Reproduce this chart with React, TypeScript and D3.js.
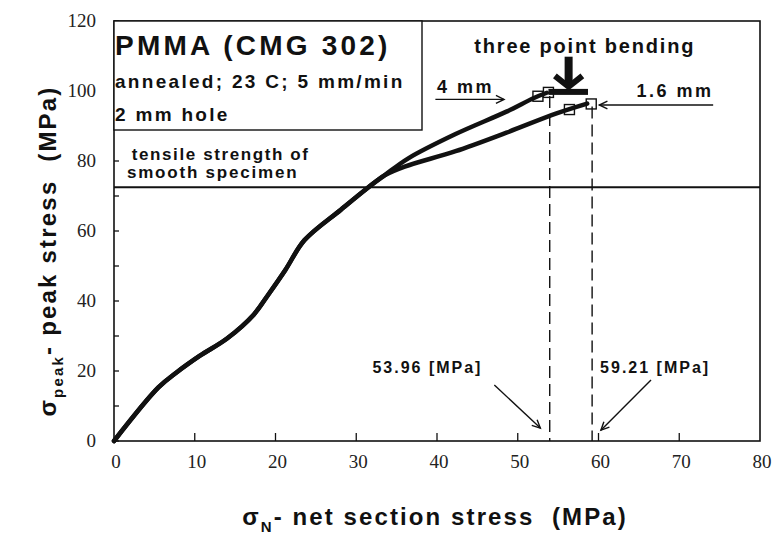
import React from "react";
import * as d3 from "d3";

// ---- data (MPa) ----
const sharedX = [0, 5.5, 7.7, 10.6, 14.0, 17.3, 19.1, 21.2, 23.6, 28.1, 31.4, 33.5];
const sharedY = [0, 15.3, 19.5, 24.3, 29.3, 36.1, 41.8, 48.8, 57.4, 66.1, 72.3, 75.9];
const upperX = [36.4, 42.3, 48.6, 52.0, 53.6];
const upperY = [80.7, 87.7, 94.1, 98.0, 99.5];
const lowerX = [36.0, 42.3, 48.6, 54.8, 58.6];
const lowerY = [78.4, 82.8, 88.1, 93.6, 96.4];
const markerX = [52.5, 53.8, 56.4, 59.1];
const markerY = [98.5, 99.6, 94.7, 96.3];
const dashX = [53.96, 59.21];
const dashTop = [98.6, 95.6];
const dashLabels = ["53.96 [MPa]", "59.21 [MPa]"];
const tensileStrength = 72.5;
const xTicks = [0, 10, 20, 30, 40, 50, 60, 70, 80];
const yTicks = [0, 10, 20, 30, 40, 50, 60, 70, 80, 90, 100, 110, 120];
const yTickLabels = [0, 20, 40, 60, 80, 100, 120];

const W = 774;
const H = 543;
const x = d3.scaleLinear().domain([0, 80]).range([114, 760]);
const y = d3.scaleLinear().domain([0, 120]).range([441, 21]);

const SANS = "'Liberation Sans', Arial, Helvetica, sans-serif";
const SERIF = "'Liberation Serif', 'Times New Roman', serif";

const zip = (xs: number[], ys: number[]) => xs.map((v, i) => [v, ys[i]] as [number, number]);
const line = d3
  .line<[number, number]>()
  .x((d) => x(d[0]))
  .y((d) => y(d[1]))
  .curve(d3.curveCatmullRom.alpha(0.5));

const upperPts = [...zip(sharedX, sharedY), ...zip(upperX, upperY)];
const lowerPts = [...zip(sharedX, sharedY), ...zip(lowerX, lowerY)];

function Arrow({ x1, y1, x2, y2, head = 9 }: { x1: number; y1: number; x2: number; y2: number; head?: number }) {
  const a = Math.atan2(y2 - y1, x2 - x1);
  const s = 0.45;
  const p1 = [x2 - head * Math.cos(a - s), y2 - head * Math.sin(a - s)];
  const p2 = [x2 - head * Math.cos(a + s), y2 - head * Math.sin(a + s)];
  return (
    <g stroke="#111" strokeWidth={1.4} fill="none">
      <line x1={x1} y1={y1} x2={x2} y2={y2} />
      <polyline points={`${p1[0]},${p1[1]} ${x2},${y2} ${p2[0]},${p2[1]}`} />
    </g>
  );
}

export default function App() {
  const x0 = x(0), x1 = x(80), yb = y(0), yt = y(120);
  const bold = { fontFamily: SANS, fontWeight: "bold" as const, fill: "#111" };
  return (
    <svg width={W} height={H} style={{ position: "absolute", left: 0, top: 0, background: "#fff" }}>
      {/* frame */}
      <rect x={x0} y={yt} width={x1 - x0} height={yb - yt} fill="none" stroke="#111" strokeWidth={1.6} />
      {/* y ticks */}
      {yTicks.map((t) => (
        <line key={"yt" + t} x1={x0} x2={x0 + 5} y1={y(t)} y2={y(t)} stroke="#111" strokeWidth={1.3} />
      ))}
      {yTickLabels.map((t) => (
        <text key={"yl" + t} x={x0 - 18} y={y(t) + 6} textAnchor="end" fontFamily={SERIF} fontSize={19} fill="#222">
          {t}
        </text>
      ))}
      {/* x ticks */}
      {xTicks.slice(1, -1).map((t) => (
        <line key={"xt" + t} x1={x(t)} x2={x(t)} y1={yb} y2={yb - 8} stroke="#111" strokeWidth={1.3} />
      ))}
      {xTicks.map((t) => (
        <text key={"xl" + t} x={x(t) + 2} y={yb + 27} textAnchor="middle" fontFamily={SERIF} fontSize={19} fill="#222">
          {t}
        </text>
      ))}

      {/* legend box */}
      <rect x={x0} y={yt} width={422 - x0} height={130 - yt} fill="#fff" stroke="#111" strokeWidth={1.4} />
      <text x={x0 + 1} y={55} {...bold} fontSize={28} letterSpacing={3.2}>
        PMMA (CMG 302)
      </text>
      <text x={x0 + 1} y={88} {...bold} fontSize={19} letterSpacing={2.3}>
        annealed; 23 C; 5 mm/min
      </text>
      <text x={x0 + 1} y={121} {...bold} fontSize={19} letterSpacing={2.3}>
        2 mm hole
      </text>

      {/* tensile strength line */}
      <line x1={x0} x2={x1} y1={y(tensileStrength)} y2={y(tensileStrength)} stroke="#111" strokeWidth={2} />
      <text x={x(2.2)} y={y(80.3)} {...bold} fontSize={17} letterSpacing={1.6}>
        tensile strength of
      </text>
      <text x={x(1.6)} y={y(75.2)} {...bold} fontSize={17} letterSpacing={1.8}>
        smooth specimen
      </text>

      {/* dashed verticals */}
      {dashX.map((d, i) => (
        <line key={"dl" + i} x1={x(d)} x2={x(d)} y1={y(dashTop[i])} y2={yb} stroke="#111" strokeWidth={1.4} strokeDasharray="12,6" />
      ))}

      {/* curves */}
      <path d={line(upperPts) || ""} fill="none" stroke="#111" strokeWidth={4.5} strokeLinejoin="round" strokeLinecap="round" />
      <path d={line(lowerPts) || ""} fill="none" stroke="#111" strokeWidth={4.5} strokeLinejoin="round" strokeLinecap="round" />

      {/* markers */}
      {markerX.map((m, i) => (
        <rect key={"mk" + i} x={x(m) - 5} y={y(markerY[i]) - 5} width={10} height={10} fill="none" stroke="#111" strokeWidth={1.4} />
      ))}

      {/* three point bending */}
      <text x={x(58.3)} y={y(110.9)} textAnchor="middle" {...bold} fontSize={20} letterSpacing={1.8}>
        three point bending
      </text>
      <rect x={x(53.8)} y={y(100.6)} width={x(58.7) - x(53.8)} height={6} fill="#111" />
      <line x1={x(56.3)} x2={x(56.3)} y1={y(109.8)} y2={y(101.5)} stroke="#111" strokeWidth={8} />
      <polyline
        points={`${x(54.6)},${y(104.3)} ${x(56.3)},${y(101.2)} ${x(58.0)},${y(104.3)}`}
        fill="none"
        stroke="#111"
        strokeWidth={6}
      />

      {/* 4 mm / 1.6 mm */}
      <text x={x(40.0)} y={y(99.5)} {...bold} fontSize={18} letterSpacing={2.5}>
        4 mm
      </text>
      <Arrow x1={x(39.8)} y1={y(97.6)} x2={x(48.3)} y2={y(97.6)} />
      <text x={x(64.7)} y={y(98.3)} {...bold} fontSize={18} letterSpacing={2.5}>
        1.6 mm
      </text>
      <Arrow x1={x(74.2)} y1={y(96.0)} x2={x(60.1)} y2={y(96.0)} />

      {/* value labels */}
      <text x={x(32.0)} y={y(19.4)} {...bold} fontSize={16} letterSpacing={2}>
        {dashLabels[0]}
      </text>
      <Arrow x1={x(47.1)} y1={y(16.0)} x2={x(52.8)} y2={y(3.7)} />
      <text x={x(60.2)} y={y(19.4)} {...bold} fontSize={16} letterSpacing={2}>
        {dashLabels[1]}
      </text>
      <Arrow x1={x(66.5)} y1={y(17.4)} x2={x(60.3)} y2={y(3.1)} />

      {/* axis titles */}
      <text x={435} y={525} textAnchor="middle" {...bold} fontSize={24} letterSpacing={2.1} style={{ whiteSpace: "pre" }}>
        σ<tspan fontSize={15} dy={7}>N</tspan>
        <tspan dy={-7}>- net section stress  (MPa)</tspan>
      </text>
      <text
        transform="translate(56,251) rotate(-90)"
        textAnchor="middle"
        {...bold}
        fontSize={24}
        letterSpacing={2.2}
        style={{ whiteSpace: "pre" }}
      >
        σ<tspan fontSize={15} dy={7}>peak</tspan>
        <tspan dy={-7}>- peak stress  (MPa)</tspan>
      </text>
    </svg>
  );
}
